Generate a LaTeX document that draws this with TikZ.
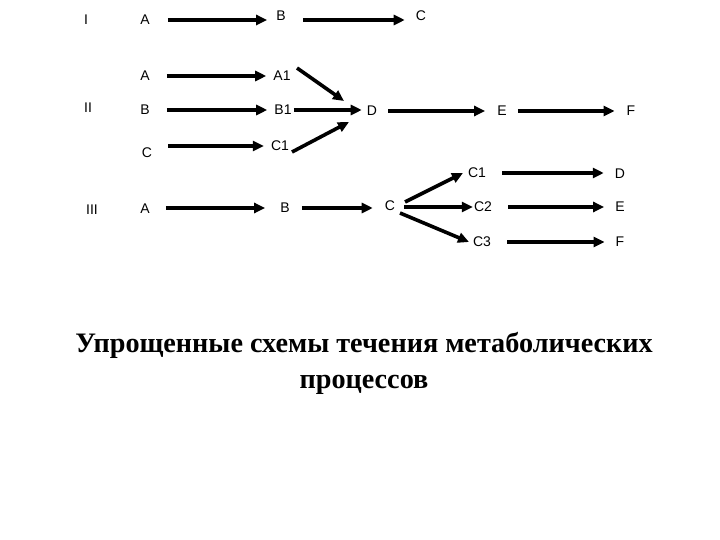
\documentclass[tikz,border=0pt]{standalone}
\usepackage{fontspec}
\setmainfont{Liberation Serif}
\newfontfamily\lab{Liberation Sans}
\usetikzlibrary{arrows.meta}
\begin{document}
\begin{tikzpicture}[x=1pt,y=-1pt,
  lbl/.style={font=\lab\fontsize{14}{16}\selectfont, inner sep=0pt},
  arr/.style={line width=3.6pt, -{Triangle[length=11pt,width=10pt]}},
  ttl/.style={font=\bfseries\fontsize{28.2}{32}\selectfont, inner sep=0pt}]
\useasboundingbox (0,0) rectangle (720,540);
% row I
\node[lbl, anchor=west] (r1) at (84,20) {I};
\node[lbl] (a1) at (145,20) {A};
\node[lbl] (b1) at (281,16) {B};
\node[lbl] (c1) at (421,16) {C};
\draw[arr, shorten <=18pt, shorten >=9pt] (a1.east) -- (a1.east -| b1.west);
\draw[arr, shorten <=17pt, shorten >=11pt] (b1.east |- a1.east) -- (a1.east -| c1.west);
% row II
\node[lbl, anchor=west] (r2) at (84,108) {II};
\node[lbl] (a2) at (145,76) {A};
\node[lbl] (b2) at (145,110) {B};
\node[lbl] (c2) at (147,153) {C};
\node[lbl] (a21) at (282,76) {A1};
\node[lbl] (b21) at (283,110) {B1};
\node[lbl] (c21) at (280,146) {C1};
\node[lbl] (d2) at (372,111) {D};
\node[lbl] (e2) at (502,111) {E};
\node[lbl] (f2) at (631,111) {F};
\coordinate (a21o) at (297,68); \coordinate (d2a) at (344,101);
\coordinate (c21o) at (292,152); \coordinate (d2c) at (349,122);
\draw[arr, shorten <=17pt, shorten >=7pt] (a2.east) -- (a2.east -| a21.west);
\draw[arr, shorten <=17pt, shorten >=7pt] (b2.east) -- (b2.east -| b21.west);
\draw[arr, shorten <=16pt, shorten >=7pt] (c2.east |- c21.west) -- (c21.west);
\draw[arr] (a21o) -- (d2a);
\draw[arr, shorten <=2pt, shorten >=5pt] (b21.east) -- (b21.east -| d2.west);
\draw[arr] (c21o) -- (d2c);
\draw[arr, shorten <=11pt, shorten >=12pt] (d2.east) -- (d2.east -| e2.west);
\draw[arr, shorten <=11pt, shorten >=12pt] (e2.east) -- (e2.east -| f2.west);
% row III
\node[lbl, anchor=west] (r3) at (86,210) {III};
\node[lbl] (a3) at (145,209) {A};
\node[lbl] (b3) at (285,208) {B};
\node[lbl] (c3) at (390,206) {C};
\node[lbl] (c31) at (477,173) {C1};
\node[lbl] (c32) at (483,207) {C2};
\node[lbl] (c33) at (482,242) {C3};
\node[lbl] (d3) at (620,174) {D};
\node[lbl] (e3) at (620,207) {E};
\node[lbl] (f3) at (620,242) {F};
\coordinate (c3u) at (405,202); \coordinate (c31i) at (463,173);
\coordinate (c3d) at (400,213); \coordinate (c33i) at (469,242);
\draw[arr, shorten <=16pt, shorten >=15pt] (a3.east |- b3.west) -- (b3.west);
\draw[arr, shorten <=12pt, shorten >=12pt] (b3.east) -- (b3.east -| c3.west);
\draw[arr] (c3u) -- (c31i);
\draw[arr, shorten <=9pt, shorten >=1pt] (c3.east |- c32.west) -- (c32.west);
\draw[arr] (c3d) -- (c33i);
\draw[arr, shorten <=16pt, shorten >=11pt] (c31.east) -- (c31.east -| d3.west);
\draw[arr, shorten <=16pt, shorten >=11pt] (c32.east) -- (c32.east -| e3.west);
\draw[arr, shorten <=16pt, shorten >=11pt] (c33.east) -- (c33.east -| f3.west);
% title
\node[ttl, anchor=base] (t1) at (364,352) {Упрощенные схемы течения метаболических};
\node[ttl, anchor=base] (t2) at (364,388) {процессов};
\end{tikzpicture}
\end{document}
